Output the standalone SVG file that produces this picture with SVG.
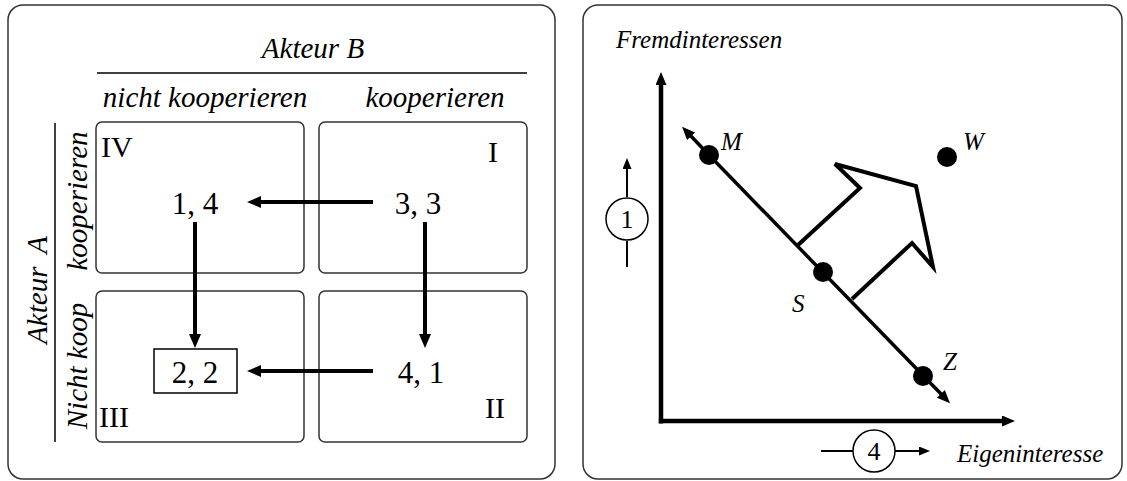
<svg xmlns="http://www.w3.org/2000/svg" width="1127" height="481" viewBox="0 0 1127 481">
<style>
.panel{fill:none;stroke:#333;stroke-width:1.5}
.cell{fill:none;stroke:#333;stroke-width:1.5}
.it{font-family:"Liberation Serif","Times New Roman",serif;font-style:italic;font-size:29px;fill:#000}
.itr{font-family:"Liberation Serif","Times New Roman",serif;font-style:italic;font-size:25px;fill:#000}
.rm{font-family:"Liberation Serif","Times New Roman",serif;font-size:30px;fill:#000}
.num{font-family:"Liberation Serif","Times New Roman",serif;font-size:31px;fill:#000;text-anchor:middle}
.cnum{font-family:"Liberation Serif","Times New Roman",serif;font-size:26px;fill:#000;text-anchor:middle}
.thick{fill:none;stroke:#000;stroke-width:4}
.diag{fill:none;stroke:#000;stroke-width:3.5}
.axis{fill:none;stroke:#000;stroke-width:4.5}
.thin{fill:none;stroke:#000;stroke-width:2}
.dot{fill:#000}
</style>
<defs>
<marker id="ah" markerUnits="userSpaceOnUse" markerWidth="16" markerHeight="14" refX="4" refY="6" orient="auto">
<path d="M0,0 L14,6 L0,12 z" fill="#000"/>
</marker>
<marker id="ahs" markerUnits="userSpaceOnUse" markerWidth="14" markerHeight="12" refX="3" refY="5.5" orient="auto">
<path d="M0,0 L13,5.5 L0,11 z" fill="#000"/>
</marker>
<marker id="aht" markerUnits="userSpaceOnUse" markerWidth="14" markerHeight="12" refX="2" refY="4.5" orient="auto">
<path d="M0,0 L11,4.5 L0,9 z" fill="#000"/>
</marker>
</defs>

<g id="left-panel">
<rect class="panel" x="8" y="5" width="547" height="474" rx="15"/>
<text class="it" x="313" y="58" text-anchor="middle">Akteur B</text>
<line x1="97" y1="73" x2="527" y2="73" stroke="#000" stroke-width="1.5"/>
<text class="it" x="205" y="107" text-anchor="middle">nicht kooperieren</text>
<text class="it" x="435" y="107" text-anchor="middle">kooperieren</text>
<line x1="55" y1="123" x2="55" y2="442" stroke="#000" stroke-width="1.5"/>
<text class="it" transform="translate(87,201) rotate(-90)" text-anchor="middle">kooperieren</text>
<text class="it" transform="translate(87,366) rotate(-90)" text-anchor="middle">Nicht koop</text>
<text class="it" transform="translate(47,290) rotate(-90)" text-anchor="middle" style="word-spacing:6px">Akteur A</text>
</g>

<g id="cell-IV">
<rect class="cell" x="96" y="122" width="208" height="151" rx="6"/>
<text class="rm" x="101" y="157">IV</text>
<text class="num" x="195" y="214">1, 4</text>
</g>
<g id="cell-I">
<rect class="cell" x="319" y="122" width="208" height="151" rx="6"/>
<text class="rm" x="488" y="162">I</text>
<text class="num" x="418" y="214">3, 3</text>
</g>
<g id="cell-III">
<rect class="cell" x="96" y="291" width="208" height="151" rx="6"/>
<text class="rm" x="99" y="427">III</text>
<rect x="154" y="349" width="83" height="44" fill="none" stroke="#000" stroke-width="1.5"/>
<text class="num" x="195" y="383">2, 2</text>
</g>
<g id="cell-II">
<rect class="cell" x="319" y="291" width="208" height="151" rx="6"/>
<text class="rm" x="485" y="418">II</text>
<text class="num" x="421" y="383">4, 1</text>
</g>

<g id="connectors-left">
<line class="thick" x1="373" y1="202" x2="257" y2="202" marker-end="url(#ah)"/>
<line class="thick" x1="195" y1="222" x2="195" y2="338" marker-end="url(#ah)"/>
<line class="thick" x1="425" y1="222" x2="425" y2="338" marker-end="url(#ah)"/>
<line class="thick" x1="373" y1="371" x2="257" y2="371" marker-end="url(#ah)"/>
</g>

<g id="right-panel">
<rect class="panel" x="583" y="5" width="539" height="474" rx="15"/>
<text class="itr" x="616" y="48">Fremdinteressen</text>
<text class="itr" x="957" y="462">Eigeninteresse</text>
</g>

<g id="axes">
<line class="axis" x1="661" y1="423.5" x2="661" y2="82" marker-end="url(#ahs)"/>
<line class="axis" x1="658.8" y1="421" x2="1005" y2="421" marker-end="url(#ahs)"/>
</g>

<g id="indicator-1">
<line class="thin" x1="627" y1="267" x2="627" y2="241"/>
<line class="thin" x1="627" y1="197" x2="627" y2="167" marker-end="url(#aht)"/>
<circle cx="627" cy="219" r="21" fill="none" stroke="#000" stroke-width="1.5"/>
<text class="cnum" x="627" y="228">1</text>
</g>
<g id="indicator-4">
<line class="thin" x1="821" y1="451" x2="853" y2="451"/>
<line class="thin" x1="895" y1="451" x2="921" y2="451" marker-end="url(#aht)"/>
<circle cx="874" cy="451" r="21" fill="none" stroke="#000" stroke-width="1.5"/>
<text class="cnum" x="874" y="460">4</text>
</g>

<g id="diagonal">
<line class="diag" x1="709" y1="155" x2="689" y2="134" marker-end="url(#ahs)"/>
<line class="diag" x1="709" y1="155" x2="943" y2="396" marker-end="url(#ahs)"/>
</g>

<g id="big-arrow">
<polyline fill="none" stroke="#000" stroke-width="4" stroke-linejoin="miter" points="798,245 860,188 835,164 916,186 933,267 912,243 852,299"/>
</g>

<g id="point-M">
<circle class="dot" cx="709" cy="155" r="10"/>
<text class="itr" x="721" y="150">M</text>
</g>
<g id="point-W">
<circle class="dot" cx="947" cy="157" r="10"/>
<text class="itr" x="963" y="150">W</text>
</g>
<g id="point-S">
<circle class="dot" cx="823" cy="272" r="10"/>
<text class="itr" x="792" y="312">S</text>
</g>
<g id="point-Z">
<circle class="dot" cx="923" cy="376" r="10"/>
<text class="itr" x="943" y="370">Z</text>
</g>
</svg>
